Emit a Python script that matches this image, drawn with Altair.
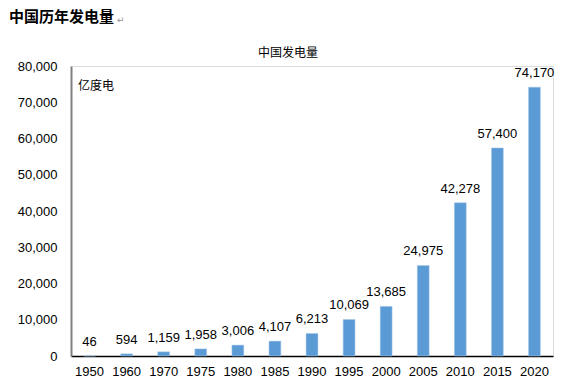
import altair as alt
import pandas as pd

years = ["1950", "1960", "1970", "1975", "1980", "1985", "1990", "1995",
         "2000", "2005", "2010", "2015", "2020"]
values = [46, 594, 1159, 1958, 3006, 4107, 6213, 10069, 13685, 24975,
          42278, 57400, 74170]
y_ticks = [0, 10000, 20000, 30000, 40000, 50000, 60000, 70000, 80000]

df = pd.DataFrame({"year": years, "value": values})

W, H = 482, 290
LEFT, TOP = 63, 58

x = alt.X("year:N", sort=years, title=None,
          scale=alt.Scale(paddingInner=0.68, paddingOuter=0.34),
          axis=alt.Axis(labelAngle=0, ticks=False, domainColor="#000000",
                        domainWidth=1.5, labelFont="Liberation Sans",
                        labelFontSize=13, labelColor="#000000", labelPadding=9))
y = alt.Y("value:Q", title=None,
          scale=alt.Scale(domain=[0, 80000], nice=False),
          axis=alt.Axis(values=y_ticks, format=",.0f", ticks=False, grid=False,
                        domainColor="#808080", domainWidth=2,
                        labelFont="Liberation Sans", labelFontSize=13,
                        labelColor="#000000", labelPadding=14))

base = alt.Chart(df)
bars = base.mark_bar(color="#5B9BD5", stroke="#A9C8EA", strokeWidth=0.5).encode(x=x, y=y)
labels = base.mark_text(dy=-10, baseline="alphabetic", font="Liberation Sans",
                        fontSize=13, color="#000000").encode(
    x=x, y=y, text=alt.Text("value:Q", format=","))

title = alt.Chart(pd.DataFrame({"t": ["中国历年发电量"]})).mark_text(
    align="left", baseline="middle", font="Noto Sans CJK SC", fontSize=15,
    fontWeight="bold", color="#000000").encode(
    x=alt.value(9 - 71), y=alt.value(17 - 66), text="t:N")
mark = alt.Chart(pd.DataFrame({"t": ["↵"]})).mark_text(
    align="left", baseline="middle", font="DejaVu Sans", fontSize=9,
    color="#909090").encode(
    x=alt.value(117 - 71), y=alt.value(20 - 66), text="t:N")
subtitle = alt.Chart(pd.DataFrame({"t": ["中国发电量"]})).mark_text(
    align="center", baseline="middle", font="Noto Sans CJK SC", fontSize=12,
    color="#000000").encode(
    x=alt.value(288 - 71), y=alt.value(53 - 66), text="t:N")
unit = alt.Chart(pd.DataFrame({"t": ["亿度电"]})).mark_text(
    align="left", baseline="middle", font="Noto Sans CJK SC", fontSize=12,
    color="#000000").encode(
    x=alt.value(78 - 71), y=alt.value(86 - 66), text="t:N")

chart = alt.layer(bars, labels, title, mark, subtitle, unit).properties(
    width=W, height=H,
    autosize=alt.AutoSizeParams(type="none"),
    padding={"left": LEFT, "top": TOP, "right": 9, "bottom": 26},
).configure_view(stroke=None).configure(background="#ffffff")

chart.save("out.html", embed_options={"renderer": "svg", "actions": False})
